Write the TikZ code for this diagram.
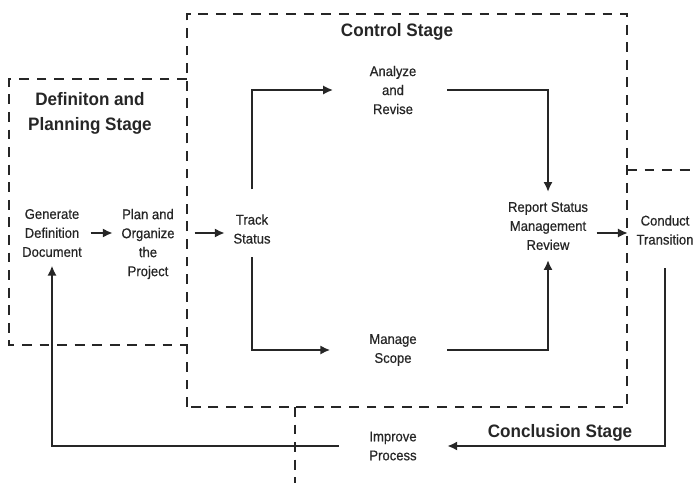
\documentclass[tikz,border=0pt]{standalone}
\usepackage{fontspec}
\setmainfont{Liberation Sans}[FakeStretch=0.95]
\newfontfamily\taskfont{Liberation Sans}[FakeStretch=0.93, FakeBold=0.6]
\usetikzlibrary{arrows.meta}

\begin{document}
\begin{tikzpicture}[
    x=0.025cm, y=0.025cm,
    stage/.style={line width=1.9pt, dash pattern=on 7pt off 5.5pt, black!85},
    title/.style={font=\fontsize{12.8}{17.8}\selectfont\bfseries, align=center, black!85},
    task/.style={font=\taskfont\fontsize{10}{13.5}\selectfont, align=center, inner sep=6pt, black!85},
    midtask/.style={task, minimum width=2.7cm},
    flow/.style={line width=1.6pt, black!85, -{Latex[length=7pt,width=6.5pt]}}
]
\useasboundingbox (0,0) rectangle (695,483);

% stage borders
\draw[stage] (187,404) -- (9,404) -- (9,138) -- (187,138);
\draw[stage] (187,76) rectangle (627,469);
\draw[stage] (295,76) -- (295,0);
\draw[stage] (627,313) -- (695,313);

\node[title] (defttl) at (90,370) {Definiton and\\Planning Stage};
\node[title] (ctrlttl) at (397,451) {Control Stage};
\node[title] (concttl) at (560,50) {Conclusion Stage};

\node[task] (gen) at (52,250) {Generate\\Definition\\Document};
\node[task] (plan) at (148,239) {Plan and\\Organize\\the\\Project};
\node[task] (track) at (252,254) {Track\\Status};
\node[midtask] (analyze) at (393,393) {Analyze\\and\\Revise};
\node[midtask] (manage) at (393,133) {Manage\\Scope};
\node[task, inner ysep=7pt] (report) at (548,257) {Report Status\\Management\\Review};
\node[task] (conduct) at (665,253) {Conduct\\Transition};
\node[midtask] (improve) at (393,37) {Improve\\Process};

\draw[flow] (gen.east) -- (gen.east -| plan.west);
\draw[flow, shorten <=8pt] (plan.east |- gen.east) -- (track.west |- gen.east);
\draw[flow, shorten <=11.5pt, shorten >=4pt] (track.north) |- (analyze.west);
\draw[flow, shorten <=3.5pt, shorten >=6pt] (track.south) |- (manage.west);
\draw[flow] (analyze.east) -| (report.north);
\draw[flow] (manage.east) -| (report.south);
\draw[flow] (report.east |- gen.east) -- (conduct.west |- gen.east);
\draw[flow, shorten <=10.5pt] (conduct.south) |- (improve.east);
\draw[flow] (improve.west) -| (gen.south);

\end{tikzpicture}
\end{document}
